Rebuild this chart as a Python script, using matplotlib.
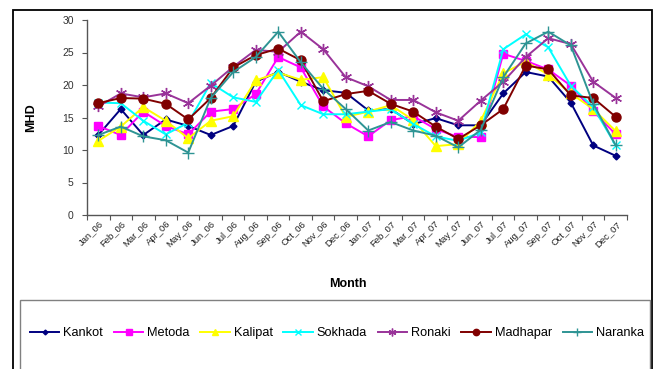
import matplotlib
matplotlib.use("Agg")
import matplotlib.pyplot as plt
from matplotlib.patches import Rectangle
import numpy as np

plt.rcParams['font.family'] = ['Liberation Sans', 'DejaVu Sans']

months = ["Jan_06", "Feb_06", "Mar_06", "Apr_06", "May_06", "Jun_06", "Jul_06", "Aug_06",
          "Sep_06", "Oct_06", "Nov_06", "Dec_06", "Jan_07", "Feb_07", "Mar_07", "Apr_07",
          "May_07", "Jun_07", "Jul_07", "Aug_07", "Sep_07", "Oct_07", "Nov_07", "Dec_07"]

kankot   = [12.3, 16.3, 12.3, 14.7, 13.7, 12.3, 13.7, 20.5, 22.0, 20.5, 19.2, 18.8,
            16.1, 16.3, 14.0, 14.9, 13.8, 13.8, 18.7, 22.0, 21.3, 17.3, 10.7, 9.1]
metoda   = [13.7, 12.3, 15.9, 13.7, 12.4, 15.9, 16.3, 18.6, 24.3, 22.7, 16.7, 14.1,
            12.1, 14.6, 15.2, 13.2, 12.0, 12.0, 24.8, 23.7, 22.4, 19.9, 16.0, 12.4]
kalipat  = [11.4, 13.6, 16.6, 14.5, 11.8, 14.5, 15.2, 20.7, 21.9, 20.8, 21.2, 15.1,
            15.9, 16.9, 14.6, 10.6, 10.9, 14.5, 21.8, 23.6, 21.6, 18.7, 16.3, 12.9]
sokhada  = [17.3, 17.2, 14.5, 12.4, 14.2, 20.3, 18.1, 17.4, 22.3, 16.9, 15.5, 15.5,
            15.9, 16.3, 14.0, 12.1, 11.4, 12.7, 25.5, 27.8, 25.8, 19.9, 16.6, 10.7]
ronaki   = [16.7, 18.7, 18.1, 18.7, 17.2, 19.9, 22.8, 25.4, 25.1, 28.2, 25.5, 21.2,
            19.8, 17.7, 17.7, 15.8, 14.5, 17.6, 20.5, 24.3, 27.2, 26.3, 20.5, 18.0]
madhapar = [17.2, 18.0, 17.9, 17.1, 14.7, 18.0, 22.7, 24.6, 25.6, 23.8, 17.5, 18.6,
            19.1, 17.1, 15.9, 13.6, 11.7, 13.8, 16.3, 23.0, 22.4, 18.4, 18.0, 15.1]
naranka  = [12.3, 13.6, 12.1, 11.5, 9.6, 18.0, 22.0, 24.3, 28.2, 23.5, 19.4, 16.3,
            13.0, 14.3, 13.0, 12.2, 10.4, 13.1, 21.2, 26.4, 28.2, 26.1, 17.1, 10.7]

series = [
    ("Kankot", kankot, "#000080", "D", 3.5),
    ("Metoda", metoda, "#FF00FF", "s", 6),
    ("Kalipat", kalipat, "#FFFF00", "^", 6.5),
    ("Sokhada", sokhada, "#00FFFF", "x", 6),
    ("Ronaki", ronaki, "#993399", (6, 2, 0), 8),
    ("Madhapar", madhapar, "#800000", "o", 6.5),
    ("Naranka", naranka, "#2E9494", "+", 8),
]

W, H = 657, 369
fig = plt.figure(figsize=(W / 100, H / 100), dpi=100)

# outer border and legend box
fig.patches.append(Rectangle((13 / W, -0.1), (652 - 13) / W, (H - 10) / H + 0.1,
                             transform=fig.transFigure, fill=False, edgecolor="black",
                             linewidth=1.3))
fig.patches.append(Rectangle((20 / W, -0.1), (650 - 20) / W, (H - 300) / H + 0.1,
                             transform=fig.transFigure, fill=False, edgecolor="#808080",
                             linewidth=1.0))

ax = fig.add_axes([87 / W, (H - 215) / H, (627 - 87) / W, (215 - 20) / H])
x = np.arange(len(months))
handles = []
for name, vals, col, mk, ms in series:
    h, = ax.plot(x, vals, color=col, marker=mk, markersize=ms, linewidth=1.4,
                 markerfacecolor=col, markeredgecolor=col, markeredgewidth=1.0, label=name)
    handles.append(h)

ax.set_xlim(-0.5, len(months) - 0.5)
ax.set_ylim(0, 30)
ax.set_yticks(range(0, 31, 5))
ax.set_xticks(np.arange(-0.5, len(months), 1.0))
ax.set_xticklabels([])
ax.set_xticks(x, minor=True)
ax.set_xticklabels(months, minor=True, rotation=45, ha="right", rotation_mode="anchor",
                   fontsize=6.8, color="#222222")
ax.tick_params(axis="x", which="minor", length=0, pad=3)
ax.tick_params(axis="x", which="major", length=3.5, direction="out", color="#555555")
ax.tick_params(axis="y", length=3.5, direction="out", color="#555555", labelsize=7.5,
               labelcolor="#333333", pad=6)
for s in ["top", "right"]:
    ax.spines[s].set_visible(False)
for s in ["left", "bottom"]:
    ax.spines[s].set_color("#555555")
    ax.spines[s].set_linewidth(1.0)

fig.text(31 / W, 1 - 118 / H, "MHD", rotation=90, ha="center", va="center",
         fontsize=9, fontweight="bold")
fig.text(348 / W, 1 - 284 / H, "Month", ha="center", va="center",
         fontsize=9, fontweight="bold")

fig.legend(handles=handles, loc="center", bbox_to_anchor=(337 / W, 1 - 333 / H),
           ncol=7, frameon=False, fontsize=9.2, handlelength=2.3, columnspacing=0.85,
           handletextpad=0.3, borderaxespad=0, markerscale=0.7)

fig.savefig("out.png", dpi=100)
